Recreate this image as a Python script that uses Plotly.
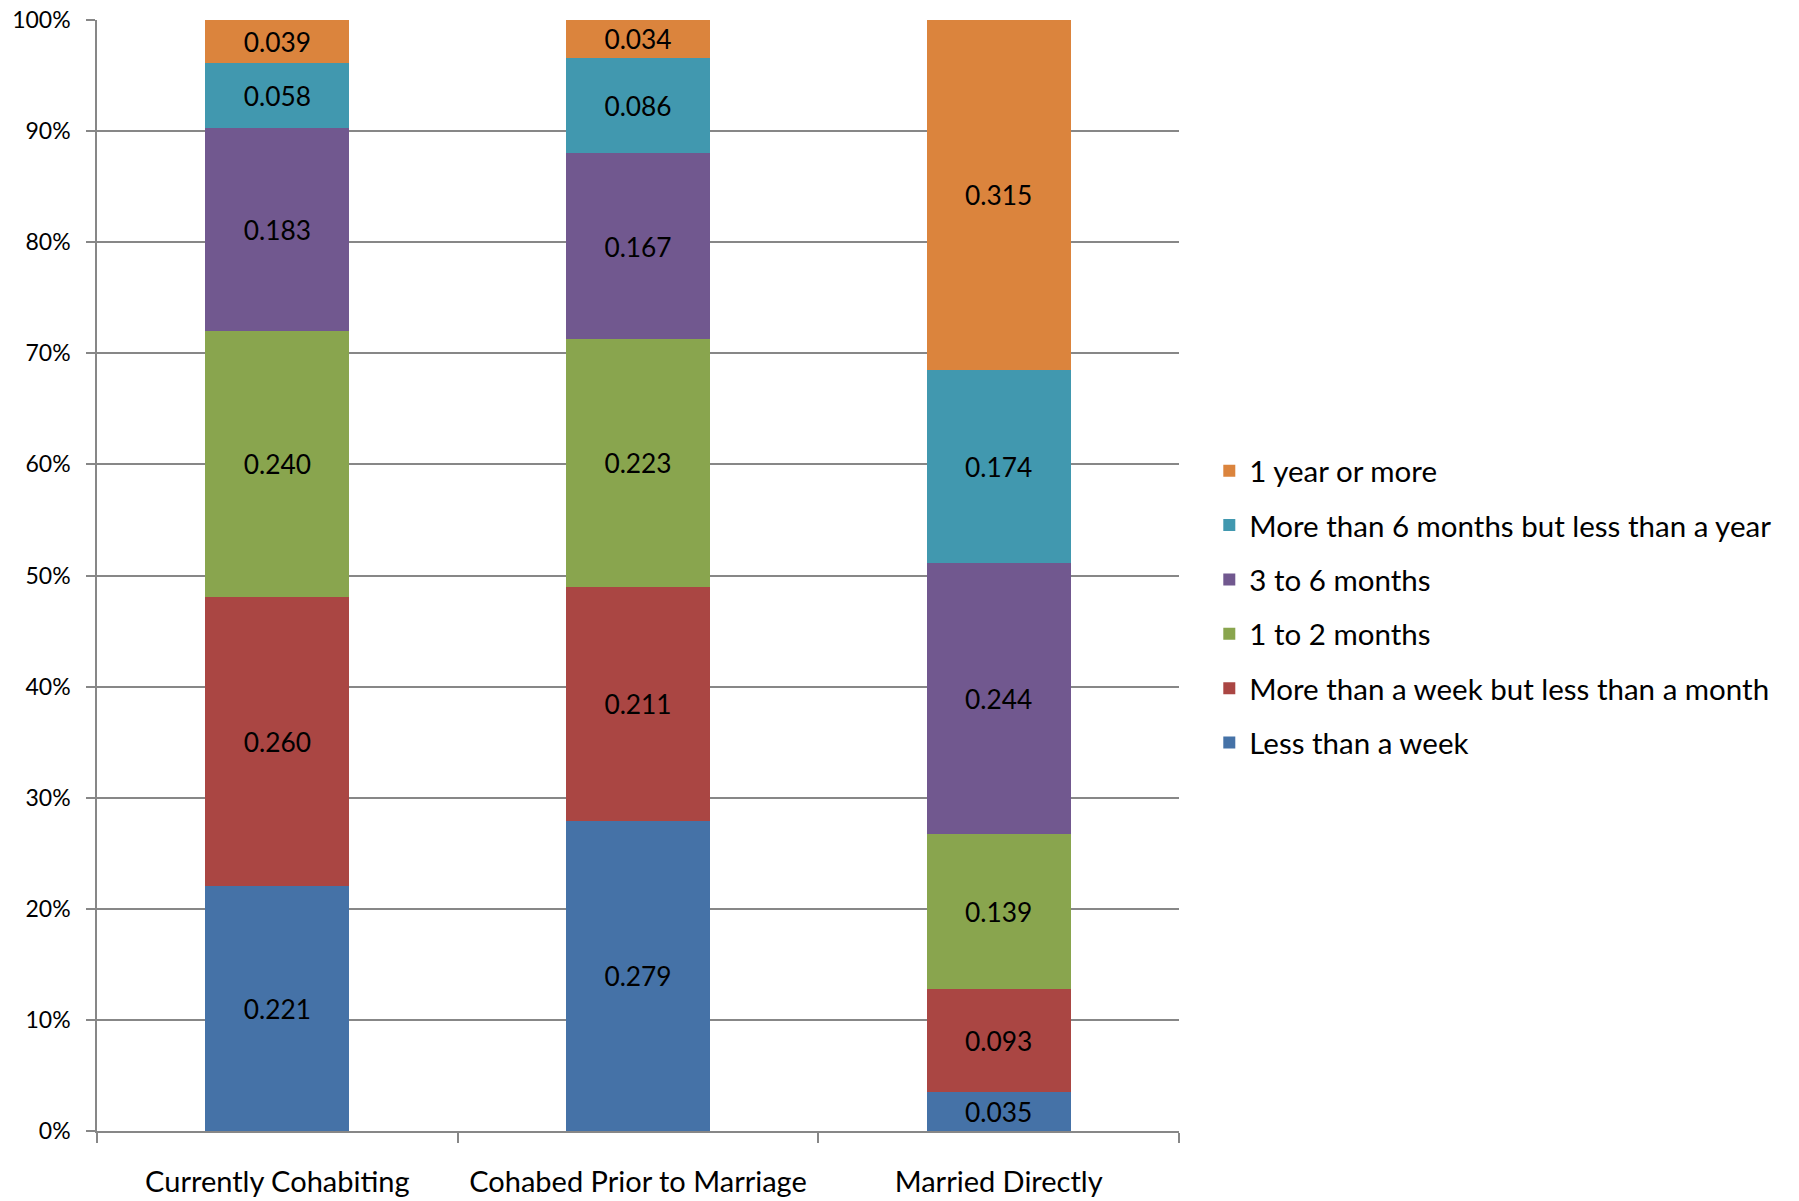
import plotly.graph_objects as go

categories = ["Currently Cohabiting", "Cohabed Prior to Marriage", "Married Directly"]

series_names = [
    "Less than a week",
    "More than a week but less than a month",
    "1 to 2 months",
    "3 to 6 months",
    "More than 6 months but less than a year",
    "1 year or more",
]

less_than_week = [0.221, 0.279, 0.035]
week_to_month = [0.260, 0.211, 0.093]
one_to_two_months = [0.240, 0.223, 0.139]
three_to_six_months = [0.183, 0.167, 0.244]
six_months_to_year = [0.058, 0.086, 0.174]
year_or_more = [0.039, 0.034, 0.315]

series_values = [
    less_than_week,
    week_to_month,
    one_to_two_months,
    three_to_six_months,
    six_months_to_year,
    year_or_more,
]

colors = ["#4572A7", "#AA4643", "#89A54E", "#71588F", "#4198AF", "#DB843D"]

FONT = "Lato"
GRID = "#878787"

fig = go.Figure()
n = len(series_names)
for i, (name, vals, col) in enumerate(zip(series_names, series_values, colors)):
    fig.add_trace(go.Bar(
        x=categories,
        y=vals,
        name=name,
        marker=dict(color=col, line=dict(width=0)),
        text=[f"{v:.3f}" for v in vals],
        textposition="inside",
        insidetextanchor="middle",
        textangle=0,
        textfont=dict(family=FONT, size=29, color="#000000"),
        legendgroup=f"g{i}",
        legendrank=(n - i) * 10,  # top segment listed first
        hoverinfo="name+y",
    ))

fig.update_layout(
    barmode="stack",
    barnorm="fraction",
    bargap=0.6,
    width=1799,
    height=1201,
    margin=dict(l=97, r=620, t=20, b=70),
    plot_bgcolor="white",
    paper_bgcolor="white",
    font=dict(family=FONT, size=23, color="#000000"),
    uniformtext=dict(minsize=10, mode="show"),
    legend=dict(
        traceorder="grouped",
        x=1.028,
        xanchor="left",
        y=0.6174,
        yanchor="top",
        font=dict(family=FONT, size=29.5, color="#000000"),
        tracegroupgap=13,
        itemwidth=30,
    ),
    showlegend=True,
)

fig.update_yaxes(
    range=[0, 1],
    tickvals=[i / 10 for i in range(11)],
    tickformat=".0%",
    showgrid=True,
    gridcolor=GRID,
    gridwidth=1.5,
    showline=True,
    linecolor=GRID,
    linewidth=1.5,
    ticks="outside",
    ticklen=9,
    tickcolor=GRID,
    tickwidth=1.5,
    tickfont=dict(family=FONT, size=23, color="#000000"),
    ticklabelstandoff=11,
    zeroline=False,
    automargin=False,
)

fig.update_xaxes(
    showline=True,
    linecolor=GRID,
    linewidth=1.5,
    ticks="outside",
    tickson="boundaries",
    ticklen=10,
    tickcolor=GRID,
    tickwidth=1.5,
    tickfont=dict(family=FONT, size=29, color="#000000"),
    ticklabelstandoff=24,
    showgrid=False,
    automargin=False,
)

fig.write_html("out.html")
